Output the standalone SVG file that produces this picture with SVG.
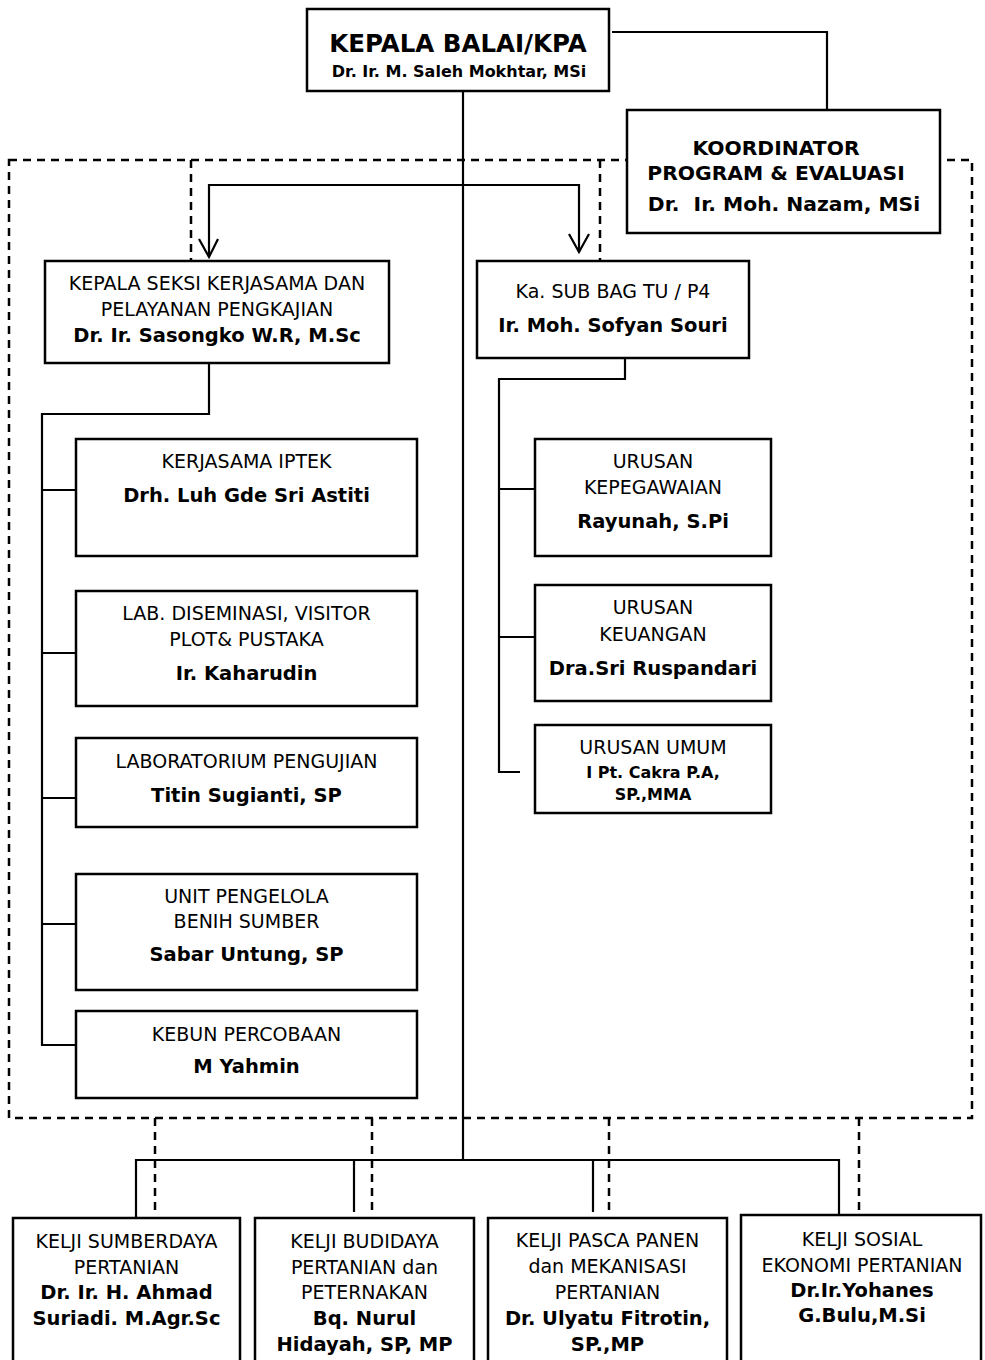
<svg xmlns="http://www.w3.org/2000/svg" width="985" height="1360" viewBox="0 0 985 1360">
<style>
.box{fill:#fff;stroke:#000;stroke-width:2.5}
.ln{fill:none;stroke:#000;stroke-width:2.2}
.dash{fill:none;stroke:#000;stroke-width:2.5;stroke-dasharray:8 6}
text{font-family:"DejaVu Sans",Verdana,sans-serif;font-size:19px;text-anchor:middle;fill:#000}
.b{font-weight:bold;font-size:19.5px}
.s16{font-size:16px}
.pre{white-space:pre}
</style>
<rect width="985" height="1360" fill="#fff"/>
<g id="dashed">
<rect class="dash" x="9" y="160" width="963" height="958"/>
<path class="dash" d="M191,160V261M600,160V261"/>
<path class="dash" d="M155,1118V1212M372,1118V1212M609,1118V1212M859,1118V1212"/>
</g>
<g id="connectors">
<path class="ln" d="M612,32H827V110"/>
<path class="ln" d="M463,91V1160"/>
<path class="ln" d="M136,1218V1160H839V1215"/>
<path class="ln" d="M354,1160V1212M593,1160V1212"/>
<path class="ln" d="M209,257V185H579V252"/>
<path class="ln" d="M199,239L209,257L218,239M569,234L579,252L589,234"/>
<path class="ln" d="M209,363V414H42V1045H76M42,490H76M42,653H76M42,798H76M42,924H76"/>
<path class="ln" d="M625,358V379H499V772H520M499,489H535M499,637H535"/>
</g>
<g id="kepala-balai">
<rect class="box" x="307" y="9" width="302" height="82"/>
<text class="b" x="458" y="52" style="font-size:24.5px">KEPALA BALAI/KPA</text>
<text class="b s16" x="459" y="77">Dr. Ir. M. Saleh Mokhtar, MSi</text>
</g>
<g id="koordinator">
<rect class="box" x="627" y="110" width="313" height="123"/>
<text class="b" x="776" y="155" style="font-size:20.3px">KOORDINATOR</text>
<text class="b" x="776" y="180" style="font-size:20.3px">PROGRAM &amp; EVALUASI</text>
<text class="b pre" x="784" y="211" style="font-size:20.3px" xml:space="preserve">Dr.  Ir. Moh. Nazam, MSi</text>
</g>
<g id="kepala-seksi">
<rect class="box" x="45" y="261" width="344" height="102"/>
<text x="217" y="290">KEPALA SEKSI KERJASAMA DAN</text>
<text x="217" y="316">PELAYANAN PENGKAJIAN</text>
<text class="b" x="217" y="342">Dr. Ir. Sasongko W.R, M.Sc</text>
</g>
<g id="kerjasama-iptek">
<rect class="box" x="76" y="439" width="341" height="117"/>
<text x="246.5" y="468">KERJASAMA IPTEK</text>
<text class="b" x="246.5" y="502">Drh. Luh Gde Sri Astiti</text>
</g>
<g id="lab-diseminasi">
<rect class="box" x="76" y="591" width="341" height="115"/>
<text x="246.5" y="620">LAB. DISEMINASI, VISITOR</text>
<text x="246.5" y="646">PLOT&amp; PUSTAKA</text>
<text class="b" x="246.5" y="680">Ir. Kaharudin</text>
</g>
<g id="lab-pengujian">
<rect class="box" x="76" y="738" width="341" height="89"/>
<text x="246.5" y="768">LABORATORIUM PENGUJIAN</text>
<text class="b" x="246.5" y="802">Titin Sugianti, SP</text>
</g>
<g id="unit-benih">
<rect class="box" x="76" y="874" width="341" height="116"/>
<text x="246.5" y="903">UNIT PENGELOLA</text>
<text x="246.5" y="928">BENIH SUMBER</text>
<text class="b" x="246.5" y="961">Sabar Untung, SP</text>
</g>
<g id="kebun-percobaan">
<rect class="box" x="76" y="1011" width="341" height="87"/>
<text x="246.5" y="1041">KEBUN PERCOBAAN</text>
<text class="b" x="246.5" y="1073">M Yahmin</text>
</g>
<g id="sub-bag-tu">
<rect class="box" x="477" y="261" width="272" height="97"/>
<text x="613" y="298">Ka. SUB BAG TU / P4</text>
<text class="b" x="613" y="332">Ir. Moh. Sofyan Souri</text>
</g>
<g id="urusan-kepegawaian">
<rect class="box" x="535" y="439" width="236" height="117"/>
<text x="653" y="468">URUSAN</text>
<text x="653" y="494">KEPEGAWAIAN</text>
<text class="b" x="653" y="528">Rayunah, S.Pi</text>
</g>
<g id="urusan-keuangan">
<rect class="box" x="535" y="585" width="236" height="116"/>
<text x="653" y="614">URUSAN</text>
<text x="653" y="641">KEUANGAN</text>
<text class="b" x="653" y="675">Dra.Sri Ruspandari</text>
</g>
<g id="urusan-umum">
<rect class="box" x="535" y="725" width="236" height="88"/>
<text x="653" y="754">URUSAN UMUM</text>
<text class="b s16" x="653" y="778">I Pt. Cakra P.A,</text>
<text class="b s16" x="653" y="800">SP.,MMA</text>
</g>
<g id="kelji-sumberdaya">
<rect class="box" x="13" y="1218" width="227" height="160"/>
<text x="126.5" y="1248">KELJI SUMBERDAYA</text>
<text x="126.5" y="1274">PERTANIAN</text>
<text class="b" x="126.5" y="1299">Dr. Ir. H. Ahmad</text>
<text class="b" x="126.5" y="1325">Suriadi. M.Agr.Sc</text>
</g>
<g id="kelji-budidaya">
<rect class="box" x="255" y="1218" width="219" height="160"/>
<text x="364.5" y="1248">KELJI BUDIDAYA</text>
<text x="364.5" y="1274">PERTANIAN dan</text>
<text x="364.5" y="1299">PETERNAKAN</text>
<text class="b" x="364.5" y="1325">Bq. Nurul</text>
<text class="b" x="364.5" y="1351">Hidayah, SP, MP</text>
</g>
<g id="kelji-pasca-panen">
<rect class="box" x="488" y="1218" width="239" height="160"/>
<text x="607.5" y="1247">KELJI PASCA PANEN</text>
<text x="607.5" y="1273">dan MEKANISASI</text>
<text x="607.5" y="1299">PERTANIAN</text>
<text class="b" x="607.5" y="1325">Dr. Ulyatu Fitrotin,</text>
<text class="b" x="607.5" y="1351">SP.,MP</text>
</g>
<g id="kelji-sosial-ekonomi">
<rect class="box" x="741" y="1215" width="240" height="160"/>
<text x="862" y="1246">KELJI SOSIAL</text>
<text x="862" y="1272">EKONOMI PERTANIAN</text>
<text class="b" x="862" y="1297">Dr.Ir.Yohanes</text>
<text class="b" x="862" y="1322">G.Bulu,M.Si</text>
</g>
</svg>
